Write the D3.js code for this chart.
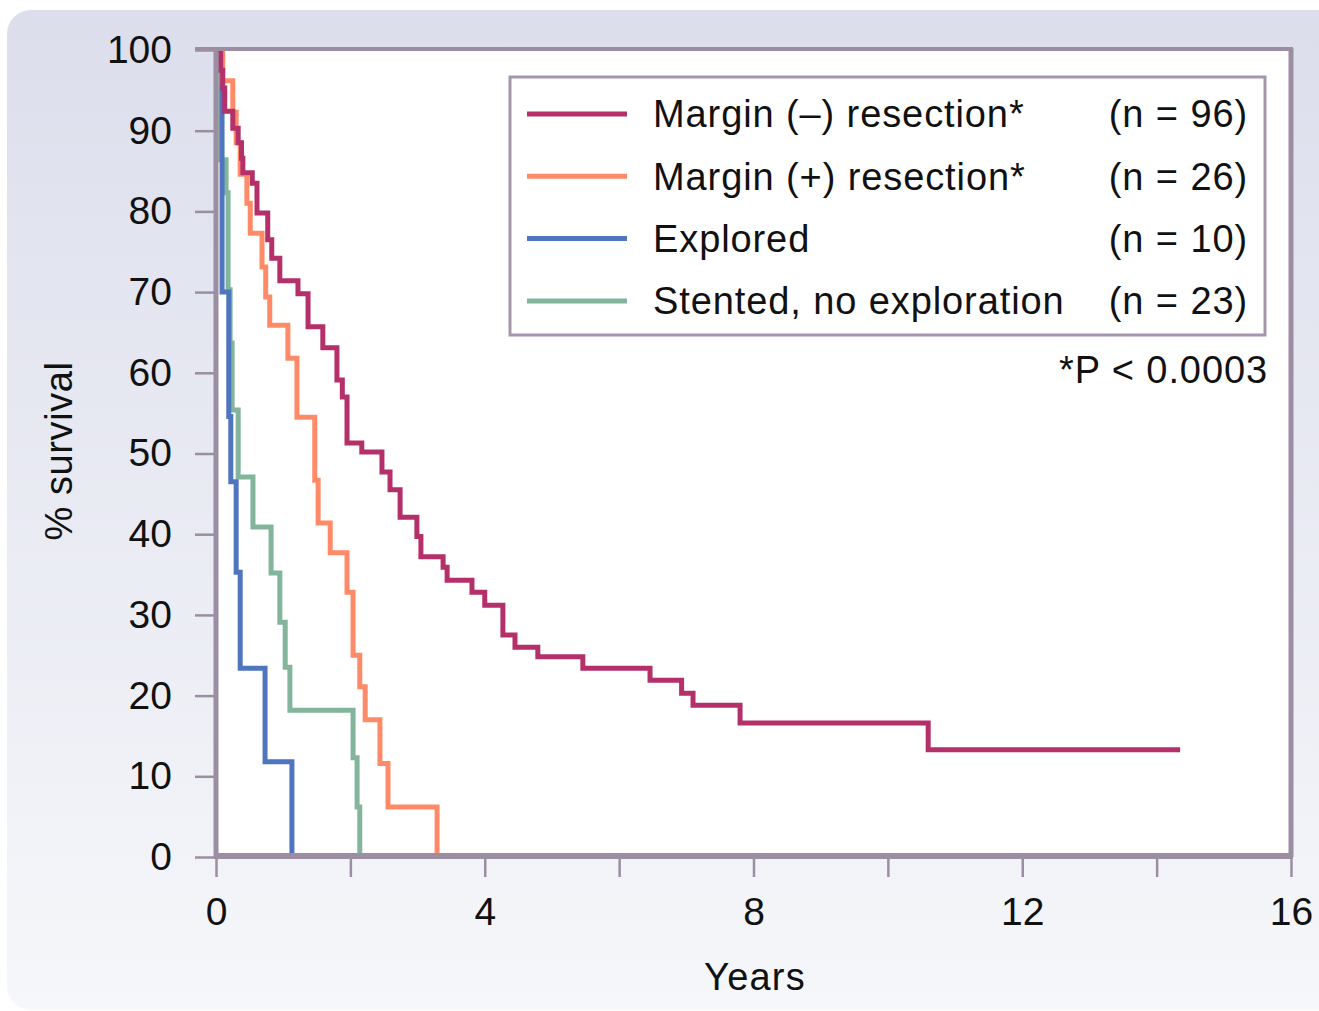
<!DOCTYPE html>
<html>
<head>
<meta charset="utf-8">
<script src="https://cdn.jsdelivr.net/npm/d3@7"></script>
<style>
  html, body { margin: 0; padding: 0; background: #fff; }
  svg { display: block; font-family: "Liberation Sans", Arial, sans-serif; }
</style>
</head>
<body>
<svg id="chart" width="1319" height="1011"></svg>
<script>
// survival curves, [years, % survival]
var marginNeg = [
  [0, 100], [0.07, 97.5], [0.10, 95.3], [0.13, 92.4], [0.25, 90.3], [0.33, 88.5],
  [0.38, 86.6], [0.40, 84.8], [0.54, 83.5], [0.61, 79.8], [0.77, 76.5], [0.83, 74.2],
  [0.95, 71.4], [1.22, 69.8], [1.37, 65.7], [1.59, 63.1], [1.80, 59.1], [1.88, 57.0],
  [1.95, 51.3], [2.17, 50.2], [2.47, 47.7], [2.59, 45.5], [2.74, 42.1], [2.99, 39.7],
  [3.05, 37.2], [3.38, 35.9], [3.44, 34.3], [3.81, 32.8], [4.00, 31.2], [4.27, 27.5],
  [4.45, 26.0], [4.79, 24.8], [5.46, 23.4], [6.46, 21.9], [6.93, 20.3], [7.10, 18.8],
  [7.80, 16.6], [10.60, 13.3], [14.35, 13.3]
];
var marginPos = [
  [0, 100], [0.10, 96.2], [0.25, 92.3], [0.30, 88.5], [0.36, 84.6], [0.46, 81.0],
  [0.51, 77.3], [0.685, 73.1], [0.74, 69.4], [0.80, 65.9], [1.07, 61.8], [1.205, 54.5],
  [1.47, 46.7], [1.52, 41.4], [1.70, 37.7], [1.95, 32.8], [2.04, 25.0], [2.14, 21.1],
  [2.22, 17.0], [2.44, 11.6], [2.56, 6.2], [3.29, 0]
];
var explored = [
  [0, 100], [0.09, 70], [0.19, 54.6], [0.22, 46.5], [0.30, 35.3], [0.36, 23.4],
  [0.73, 11.8], [1.13, 0]
];
var stented = [
  [0, 100], [0.07, 86.4], [0.15, 82.3], [0.18, 70.3], [0.21, 63.7], [0.24, 55.4],
  [0.33, 47.1], [0.55, 40.9], [0.82, 35.2], [0.95, 29.1], [1.03, 23.5], [1.10, 18.2],
  [2.04, 12.3], [2.10, 6.2], [2.14, 0]
];

var legendNames = ['Margin (\u2013) resection*', 'Margin (+) resection*', 'Explored', 'Stented, no exploration'];
var legendCounts = ['(n = 96)', '(n = 26)', '(n = 10)', '(n = 23)'];
var xTicks = [0, 2, 4, 6, 8, 10, 12, 14, 16];
var yTicks = [0, 10, 20, 30, 40, 50, 60, 70, 80, 90, 100];

var colors = ['#b3306a', '#ff8a68', '#4e75be', '#82b59c'];
var series = [marginNeg, marginPos, explored, stented];
var axisColor = '#9b8ea2';

var svg = d3.select('#chart');

// card background
var grad = svg.append('defs').append('linearGradient')
    .attr('id', 'bg').attr('x1', 0).attr('y1', 0).attr('x2', 0).attr('y2', 1);
grad.append('stop').attr('offset', '0%').attr('stop-color', '#dcdeec');
grad.append('stop').attr('offset', '100%').attr('stop-color', '#f6f7fa');

svg.append('rect')
    .attr('x', 7).attr('y', 10).attr('width', 1340).attr('height', 1000)
    .attr('rx', 24).attr('fill', 'url(#bg)');

var plot = { left: 216, right: 1291, top: 48, bottom: 857 };

var x = d3.scaleLinear().domain([0, 16]).range([plot.left, plot.right]);
var y = d3.scaleLinear().domain([0, 100]).range([plot.bottom, 50]);

svg.append('rect')
    .attr('x', plot.left).attr('y', plot.top)
    .attr('width', plot.right - plot.left).attr('height', plot.bottom - plot.top)
    .attr('fill', '#fff');

// curves
var line = d3.line()
    .x(function (d) { return x(d[0]); })
    .y(function (d) { return y(d[1]); })
    .curve(d3.curveStepAfter);

[3, 2, 1, 0].forEach(function (i) {
    svg.append('path')
        .datum(series[i])
        .attr('d', line)
        .attr('fill', 'none')
        .attr('stroke', colors[i])
        .attr('stroke-width', 5);
});

// frame
svg.append('line')
    .attr('x1', 195).attr('x2', plot.right + 2).attr('y1', plot.top + 1).attr('y2', plot.top + 1)
    .attr('stroke', axisColor).attr('stroke-width', 4);
svg.append('line')
    .attr('x1', plot.right).attr('x2', plot.right).attr('y1', plot.top).attr('y2', plot.bottom)
    .attr('stroke', axisColor).attr('stroke-width', 5);

// axes
var yAxis = svg.append('g')
    .attr('transform', 'translate(' + plot.left + ',0)')
    .call(d3.axisLeft(y).tickValues(yTicks).tickSize(21).tickPadding(23));
var xAxis = svg.append('g')
    .attr('transform', 'translate(0,' + plot.bottom + ')')
    .call(d3.axisBottom(x).tickValues(xTicks).tickSize(20).tickPadding(20)
        .tickFormat(function (d) { return d % 4 === 0 ? d : ''; }));

[yAxis, xAxis].forEach(function (g) {
    g.select('.domain').remove();
    g.selectAll('.tick line').attr('stroke', axisColor).attr('stroke-width', 2.5);
    g.selectAll('.tick text')
        .attr('fill', '#111')
        .style('font-size', '39px')
        .style('font-family', '"Liberation Sans", Arial, sans-serif');
});

svg.append('line')
    .attr('x1', plot.left).attr('x2', plot.left).attr('y1', plot.top).attr('y2', plot.bottom + 2)
    .attr('stroke', axisColor).attr('stroke-width', 5);
svg.append('line')
    .attr('x1', plot.left - 2).attr('x2', plot.right + 2).attr('y1', plot.bottom - 1).attr('y2', plot.bottom - 1)
    .attr('stroke', axisColor).attr('stroke-width', 6);

// axis titles
svg.append('text')
    .attr('x', 755).attr('y', 990)
    .attr('text-anchor', 'middle')
    .attr('fill', '#111').style('font-size', '38px').style('letter-spacing', '1.2px')
    .text('Years');
svg.append('text')
    .attr('transform', 'translate(72,451) rotate(-90)')
    .attr('text-anchor', 'middle')
    .attr('fill', '#111').style('font-size', '38px').style('letter-spacing', '0.6px')
    .text('% survival');

// legend
var legend = svg.append('g');
legend.append('rect')
    .attr('x', 510).attr('y', 77).attr('width', 755).attr('height', 258)
    .attr('fill', '#fff').attr('stroke', '#a596ad').attr('stroke-width', 3);

legendNames.forEach(function (name, i) {
    var ly = 114 + i * 62.3;
    legend.append('line')
        .attr('x1', 527).attr('x2', 627).attr('y1', ly).attr('y2', ly)
        .attr('stroke', colors[i]).attr('stroke-width', 5);
    legend.append('text')
        .attr('x', 653).attr('y', ly).attr('dy', '0.35em')
        .attr('fill', '#111').style('font-size', '38px').style('letter-spacing', '0.9px')
        .text(name);
    legend.append('text')
        .attr('x', 1248).attr('y', ly).attr('dy', '0.35em')
        .attr('text-anchor', 'end')
        .attr('fill', '#111').style('font-size', '38px').style('letter-spacing', '0.9px')
        .text(legendCounts[i]);
});

svg.append('text')
    .attr('x', 1268).attr('y', 383)
    .attr('text-anchor', 'end')
    .attr('fill', '#111').style('font-size', '38px').style('letter-spacing', '0.9px')
    .text('*P < 0.0003');
</script>
</body>
</html>
